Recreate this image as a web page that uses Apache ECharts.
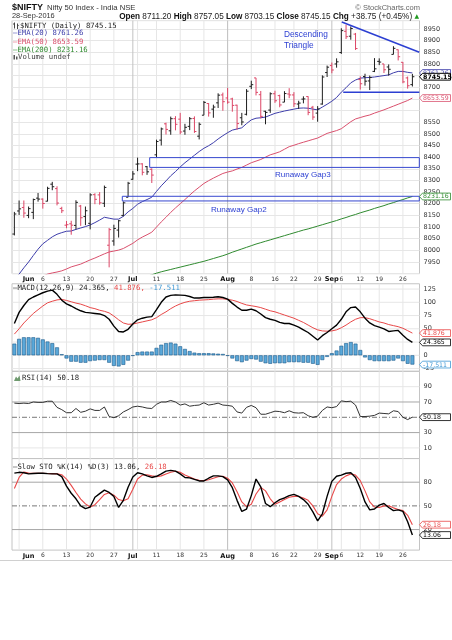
<!DOCTYPE html>
<html>
<head>
<meta charset="utf-8">
<title>$NIFTY daily</title>
<script src="https://cdn.jsdelivr.net/npm/echarts@6.0.0/dist/echarts.min.js"></script>
<style>
  html, body { margin: 0; padding: 0; background: #fff; }
  #chart { width: 452px; height: 640px; }
</style>
</head>
<body>
<div id="chart"></div>
<script>
// trading days shown on the chart (NSE, 27 May - 28 Sep 2016)
var dates = [
  '2016-05-27', '2016-05-30', '2016-05-31', '2016-06-01', '2016-06-02', '2016-06-03', '2016-06-06', '2016-06-07', '2016-06-08', '2016-06-09',
  '2016-06-10', '2016-06-13', '2016-06-14', '2016-06-15', '2016-06-16', '2016-06-17', '2016-06-20', '2016-06-21', '2016-06-22', '2016-06-23',
  '2016-06-24', '2016-06-27', '2016-06-28', '2016-06-29', '2016-06-30', '2016-07-01', '2016-07-04', '2016-07-05', '2016-07-07', '2016-07-08',
  '2016-07-11', '2016-07-12', '2016-07-13', '2016-07-14', '2016-07-15', '2016-07-18', '2016-07-19', '2016-07-20', '2016-07-21', '2016-07-22',
  '2016-07-25', '2016-07-26', '2016-07-27', '2016-07-28', '2016-07-29', '2016-08-01', '2016-08-02', '2016-08-03', '2016-08-04', '2016-08-05',
  '2016-08-08', '2016-08-09', '2016-08-10', '2016-08-11', '2016-08-12', '2016-08-16', '2016-08-17', '2016-08-18', '2016-08-19', '2016-08-22',
  '2016-08-23', '2016-08-24', '2016-08-25', '2016-08-26', '2016-08-29', '2016-08-30', '2016-08-31', '2016-09-01', '2016-09-02', '2016-09-06',
  '2016-09-07', '2016-09-08', '2016-09-09', '2016-09-12', '2016-09-14', '2016-09-15', '2016-09-16', '2016-09-19', '2016-09-20', '2016-09-21',
  '2016-09-22', '2016-09-23', '2016-09-26', '2016-09-27', '2016-09-28'
];

var opens = [
  8070, 8169, 8184, 8150, 8163, 8224, 8220, 8211, 8284, 8265,
  8180, 8108, 8114, 8107, 8190, 8145, 8116, 8239, 8238, 8202,
  8022, 8040, 8087, 8150, 8228, 8305, 8370, 8371, 8359, 8348,
  8410, 8473, 8543, 8513, 8565, 8563, 8512, 8532, 8566, 8490,
  8580, 8630, 8606, 8633, 8667, 8654, 8650, 8623, 8569, 8584,
  8704, 8740, 8668, 8597, 8602, 8672, 8664, 8636, 8671, 8667,
  8628, 8649, 8660, 8614, 8589, 8628, 8763, 8793, 8800, 8849,
  8940, 8919, 8928, 8733, 8746, 8727, 8768, 8811, 8800, 8787,
  8841, 8861, 8807, 8740, 8711.20
];
var highs = [
  8165, 8214, 8214, 8188, 8222, 8246, 8223, 8273, 8294, 8275,
  8187, 8126, 8127, 8215, 8195, 8188, 8245, 8245, 8250, 8278,
  8096, 8110, 8130, 8210, 8294, 8340, 8398, 8374, 8362, 8352,
  8475, 8527, 8548, 8574, 8576, 8590, 8543, 8572, 8575, 8549,
  8641, 8632, 8625, 8674, 8677, 8697, 8655, 8625, 8590, 8692,
  8728, 8740, 8684, 8599, 8678, 8685, 8668, 8683, 8696, 8679,
  8642, 8661, 8661, 8620, 8619, 8751, 8793, 8806, 8824, 8953,
  8968, 8961, 8933, 8747, 8758, 8750, 8825, 8824, 8800, 8798,
  8876, 8862, 8808, 8746, 8757.05
];
var lows = [
  8064, 8152, 8140, 8138, 8134, 8209, 8179, 8210, 8258, 8193,
  8160, 8095, 8067, 8090, 8105, 8108, 8090, 8198, 8196, 8186,
  7927, 8020, 8055, 8146, 8228, 8303, 8340, 8322, 8324, 8289,
  8400, 8450, 8497, 8496, 8515, 8498, 8496, 8516, 8504, 8476,
  8580, 8574, 8569, 8611, 8599, 8629, 8595, 8518, 8537, 8579,
  8692, 8665, 8566, 8541, 8590, 8633, 8614, 8636, 8653, 8615,
  8607, 8631, 8580, 8560, 8552, 8625, 8744, 8760, 8784, 8843,
  8907, 8904, 8860, 8690, 8707, 8688, 8765, 8795, 8761, 8750,
  8841, 8815, 8717, 8694, 8703.15
];
var closes = [
  8156, 8178, 8160, 8179, 8218, 8220, 8201, 8266, 8273, 8203,
  8170, 8110, 8108, 8206, 8140, 8170, 8238, 8219, 8204, 8270,
  8089, 8094, 8127, 8204, 8288, 8328, 8371, 8335, 8337, 8323,
  8467, 8521, 8519, 8565, 8541, 8508, 8528, 8565, 8510, 8541,
  8635, 8590, 8615, 8666, 8638, 8636, 8622, 8544, 8551, 8683,
  8711, 8678, 8575, 8592, 8672, 8642, 8624, 8673, 8667, 8629,
  8632, 8650, 8592, 8572, 8607, 8744, 8786, 8774, 8809, 8943,
  8917, 8952, 8866, 8715, 8726, 8742, 8779, 8808, 8775, 8777,
  8867, 8831, 8723, 8706.40, 8745.15
];

var ema20 = [
  7878, 7898, 7925, 7950, 7978, 8005, 8028, 8043, 8058, 8069,
  8076, 8082, 8083, 8090, 8096, 8102, 8109, 8119, 8130, 8142,
  8138, 8134, 8134, 8146, 8165, 8180, 8198, 8209, 8218, 8228,
  8253, 8277, 8298, 8320, 8338, 8358, 8376, 8392, 8408, 8424,
  8438, 8449, 8462, 8478, 8492, 8505, 8516, 8521, 8526, 8544,
  8560, 8567, 8569, 8572, 8580, 8588, 8593, 8598, 8602, 8606,
  8610, 8611, 8610, 8606, 8603, 8615, 8627, 8640, 8656, 8679,
  8698, 8719, 8731, 8739, 8741, 8742, 8744, 8747, 8750, 8753,
  8762, 8768, 8768, 8764, 8761.26
];
var ema50 = [
  7835, 7845, 7855, 7864, 7873, 7882, 7890, 7898, 7903, 7907,
  7912, 7920, 7929, 7935, 7941, 7950, 7959, 7967, 7976, 7985,
  7993, 7997, 8001, 8008, 8019, 8030, 8045, 8057, 8067, 8078,
  8100, 8122, 8142, 8163, 8182, 8200, 8218, 8237, 8255, 8271,
  8287, 8299, 8310, 8320, 8330, 8336, 8341, 8349, 8356, 8366,
  8376, 8383, 8390, 8400, 8410, 8416, 8423, 8434, 8445, 8451,
  8458, 8464, 8470, 8476, 8482, 8492, 8502, 8508, 8514, 8522,
  8537, 8552, 8564, 8570, 8576, 8581, 8589, 8596, 8603, 8611,
  8619, 8627, 8635, 8643, 8653.59
];
var ema200 = [
  7748, 7753, 7758, 7763, 7768, 7773, 7778, 7783, 7788, 7793,
  7798, 7803, 7808, 7813, 7818, 7823, 7828, 7833, 7838, 7843,
  7847, 7851, 7855, 7860, 7865, 7871, 7877, 7883, 7889, 7895,
  7902, 7908, 7913, 7918, 7923, 7928, 7933, 7938, 7943, 7948,
  7953, 7959, 7965, 7971, 7977, 7984, 7992, 7999, 8006, 8013,
  8020, 8027, 8033, 8039, 8045, 8051, 8057, 8063, 8069, 8075,
  8081, 8087, 8092, 8098, 8104, 8110, 8116, 8122, 8128, 8135,
  8141, 8148, 8154, 8161, 8167, 8173, 8180, 8186, 8192, 8199,
  8205, 8212, 8218, 8225, 8231.16
];

var macdLine = [
  60, 81, 94, 105, 110, 114, 118, 121, 123, 115,
  104, 97, 93, 88, 84, 81, 80, 79, 78, 75,
  68, 55, 45, 44, 49, 59, 67, 70, 72, 73,
  86, 100, 110, 113, 114, 113.5, 113, 111, 108, 108,
  109, 109, 109.5, 110.5, 109, 106, 98, 91, 85, 85,
  87, 84, 78, 71, 68, 66, 62, 60, 60, 57,
  53, 48, 43, 36, 29, 37, 43, 50, 57, 68,
  82, 90, 91, 82, 70, 61, 56, 53, 50, 45,
  46, 47, 38, 30, 24.365
];
var macdSignal = [
  40, 50, 61, 70, 79, 86, 93, 99, 102, 104.5,
  105.5, 103.5, 101, 98.5, 96.5, 93.5, 90, 88, 85, 83,
  80, 74, 67, 61, 58.5, 59, 61, 63, 65, 67,
  71, 77, 82, 88, 93, 97, 100, 102, 103, 104,
  104.5, 105, 106, 106.5, 106.5, 105.5, 104, 101.5, 98, 95,
  93.5, 92, 90, 87, 84, 82, 79, 76, 73, 70,
  66, 62, 57, 52, 48, 46, 45.5, 46, 48, 52,
  57, 63, 68, 71, 71, 69, 66, 63, 61, 58,
  56, 54, 51, 46.5, 41.876
];
var macdHist = [
  22, 31, 34, 34, 34, 33, 30, 26, 23, 15,
  2, -6, -12, -12, -14, -14, -11, -10, -9, -9,
  -14, -20, -21, -18, -10, -1, 6, 7, 7, 7,
  14, 20, 23, 24, 22, 17, 12, 8, 5, 4,
  4, 4, 3.5, 3, 2.5, -1, -6, -11, -13, -10,
  -7, -8, -12, -15, -16, -15, -15, -15, -13, -13,
  -13, -14, -14, -16, -18, -9, -3, 4, 9, 18,
  23, 25, 22, 10, -4, -9, -11, -11, -11, -11,
  -10, -6, -11, -16, -17.511
];

var rsi14 = [
  68.5, 68, 68.5, 68, 70, 69.5, 69.5, 71, 71, 63,
  60, 56, 56, 61.5, 56.5, 58, 61, 59, 59, 63.5,
  51, 49.5, 52, 57, 60, 63.5, 64.5, 63.5, 62, 61.5,
  67, 70, 70, 72, 70, 66, 67.5, 64.5, 65.5, 66,
  69, 66, 67, 68.5, 66, 65.5, 64.5, 57, 55.5, 63,
  65.5, 62.5, 54, 54, 56, 58, 57.5, 56, 58.5, 56,
  55.5, 56, 52, 50, 51.5, 59, 63.5, 62.5, 64, 71.5,
  70.5, 71, 66, 51, 51, 51.5, 52.5, 55.5, 55, 54.5,
  58.5, 57.5, 50, 47, 50.18
];

var stoK = [
  91.5, 92.5, 92, 90.5, 91, 91.3, 91.3, 90.8, 90.5, 90.5,
  87, 75, 66, 59, 50, 46.5, 48.5, 61, 65.5, 70,
  67, 62, 48, 57, 73.5, 86.5, 92, 90.5, 88, 86,
  87.5, 90.5, 94, 95, 94, 90.5, 86, 85.5, 83.5, 81.6,
  81.6, 85, 88, 88, 87, 83, 73, 57, 43, 46,
  63, 84, 74, 53, 49, 54, 58, 60, 63, 64.5,
  62, 58, 52, 42.5, 31, 40, 62, 81, 87.5, 89,
  91.3, 92, 86, 72, 55, 45, 46, 51, 53, 48,
  44, 45, 43, 30, 13.06
];
var stoD = [
  72, 86, 93, 91.5, 91.3, 91.3, 91.3, 91, 90.8, 90.5,
  89.5, 84, 76, 67, 58.5, 52.5, 48.5, 51.5, 58, 64.5,
  66.5, 63.5, 58, 56.5, 59, 71, 84, 89, 89.5, 88,
  87, 88, 90.5, 92.5, 93.8, 92.5, 89, 86.5, 84, 82.5,
  82, 83, 85, 87, 87.5, 85, 79, 68, 55, 49,
  52, 65, 73.5, 69, 59, 52, 55, 58, 61, 62,
  62, 60, 57, 50, 40, 37, 45, 62, 77, 84,
  88, 90.5, 89, 82, 69, 55, 48.5, 48, 50, 50,
  47.5, 45.5, 44, 38, 26.18
];

// date axis: label positions (index into dates) and their text
var tickIdx  = [3, 6, 11, 16, 21, 25, 30, 35, 40, 45, 50, 55, 59, 64, 67, 69, 73, 77, 82];
var tickText = ['Jun', '6', '13', '20', '27', 'Jul', '11', '18', '25', 'Aug', '8', '16', '22', '29', 'Sep', '6', '12', '19', '26'];
var weekLines  = [1, 6, 11, 16, 21, 26, 30, 35, 40, 45, 50, 55, 59, 64, 69, 73, 77, 82];
var monthLines = [25, 45, 67];

var priceHidden = [8600, 8650, 8750];
var macdTicks = [-25, 0, 25, 50, 75, 100, 125];
var rsiTicks  = [10, 30, 50, 70, 90];
var stoTicks  = [20, 50, 80];

// annotations, in (date index, price) units
var triangleTop  = [69.1, 8980, 85.46, 8850];
var triangleBase = [69.4, 8678, 85.46, 8678];
var gapBoxes = [
  [28.56, 85.46, 8356, 8398],
  [22.78, 85.46, 8212, 8232]
];

var last = dates.length - 1;
var axisDates = dates.concat(['']);
var UP = '#1e1e1e', DOWN = '#dc4666';
var BLUE = '#2c3fd2';
var MONO = 'DejaVu Sans Mono';
var SANS = 'DejaVu Sans';

var gridStyles = [
  { stroke: '#e6e6e6', lineWidth: 1 },
  { stroke: '#c2c2c2', lineWidth: 1 },
  { stroke: '#e6e6e6', lineWidth: 1 },
  { stroke: '#a6a6a6', lineWidth: 1 },
  { stroke: '#777777', lineWidth: 1, lineDash: [5, 2, 1, 2] }
];

function gridRows(yRef, levels) {
  var rows = [];
  weekLines.forEach(function (i) { rows.push([i, yRef, 0]); });
  monthLines.forEach(function (i) { rows.push([i, yRef, 1]); });
  levels.forEach(function (l) { rows.push([0, l[0], l[1]]); });
  return rows;
}

function gridSeries(g, yRef, levels) {
  return {
    type: 'custom', xAxisIndex: g, yAxisIndex: g, z: 0, silent: true,
    data: gridRows(yRef, levels),
    encode: { x: 0, y: 1 },
    renderItem: function (params, api) {
      var cs = params.coordSys;
      var kind = api.value(2);
      if (kind < 2) {
        var x = api.coord([api.value(0), yRef])[0];
        return { type: 'line', shape: { x1: x, y1: cs.y, x2: x, y2: cs.y + cs.height }, style: gridStyles[kind] };
      }
      var y = api.coord([0, api.value(1)])[1];
      return { type: 'line', shape: { x1: cs.x, y1: y, x2: cs.x + cs.width, y2: y }, style: gridStyles[kind] };
    }
  };
}

function tagSeries(g, vals, colors, digits, strongLast) {
  return {
    type: 'custom', xAxisIndex: g, yAxisIndex: g, z: 30, silent: true, clip: false,
    data: vals.map(function (v, k) { return [last, v, k]; }),
    encode: { x: 0, y: 1 },
    renderItem: function (params, api) {
      var k = api.value(2);
      var y = api.coord([last, api.value(1)])[1];
      var x0 = params.coordSys.x + params.coordSys.width;
      var x1 = x0 + 31;
      var h = 3.4;
      var strong = strongLast && k === vals.length - 1;
      return { type: 'group', children: [
        { type: 'polygon', shape: { points: [[x0, y], [x0 + 3, y - h], [x1, y - h], [x1, y + h], [x0 + 3, y + h]] },
          style: { fill: '#fff', stroke: colors[k], lineWidth: strong ? 1 : 0.8 } },
        { type: 'text', x: x0 + 3.6, y: y + 0.4,
          style: { text: api.value(1).toFixed(digits), fill: colors[k], fontSize: strong ? 6.3 : 6.2,
                   fontFamily: SANS, fontWeight: strong ? 'bold' : 'normal', verticalAlign: 'middle' } }
      ]};
    }
  };
}

function xAt(api, f) {
  var i = Math.floor(f);
  return api.coord([i, 8500])[0] + (f - i) * api.size([1, 0])[0];
}

function xAxisFor(g, withLabels) {
  return {
    type: 'category', gridIndex: g, data: axisDates, boundaryGap: true,
    axisLine: { show: false }, axisTick: { show: false }, splitLine: { show: false },
    axisLabel: withLabels ? {
      show: true, margin: 2.5, fontSize: 6, fontFamily: SANS, color: '#333',
      interval: function (i) { return tickIdx.indexOf(i) >= 0; },
      formatter: function (v, i) {
        var k = tickIdx.indexOf(i);
        if (k < 0) return '';
        var t = tickText[k];
        return isNaN(+t) ? '{m|' + t + '}' : t;
      },
      rich: { m: { fontWeight: 'bold', fontSize: 6.6, fontFamily: SANS, color: '#111' } }
    } : { show: false }
  };
}

function yAxisFor(g, min, max, interval, show, splitLine) {
  return {
    type: 'value', gridIndex: g, position: 'right', min: min, max: max, interval: interval,
    axisLine: { show: false }, axisTick: { show: false },
    splitLine: { show: !!splitLine, lineStyle: { color: '#e6e6e6', width: 1 } },
    axisLabel: { margin: 4, fontSize: 6.5, fontFamily: SANS, color: '#333',
                 formatter: function (v) { return show(v) ? String(v) : ''; } }
  };
}

var option = {
  animation: false,
  backgroundColor: '#fff',
  grid: [
    { left: 12, right: 32.5, top: 20.6, height: 253.05, show: true, borderColor: '#c4c4c4', borderWidth: 1 },
    { left: 12, right: 32.5, top: 283.75, height: 87.45, show: true, borderColor: '#c4c4c4', borderWidth: 1 },
    { left: 12, right: 32.5, top: 371.4, height: 87.2, show: true, borderColor: '#c4c4c4', borderWidth: 1 },
    { left: 12, right: 32.5, top: 458.5, height: 91.6, show: true, borderColor: '#c4c4c4', borderWidth: 1 }
  ],
  xAxis: [xAxisFor(0, true), xAxisFor(1, false), xAxisFor(2, false), xAxisFor(3, true)],
  yAxis: [
    yAxisFor(0, 7900, 8986, 50, function (v) { return v >= 7950 && v <= 8950 && v % 50 === 0 && priceHidden.indexOf(v) < 0; }, true),
    yAxisFor(1, -30, 135, 5, function (v) { return macdTicks.indexOf(v) >= 0; }),
    yAxisFor(2, -4, 110, 2, function (v) { return rsiTicks.indexOf(v) >= 0; }),
    yAxisFor(3, -6, 110, 2, function (v) { return stoTicks.indexOf(v) >= 0; })
  ],
  series: [
    gridSeries(0, 8500, []),
    gridSeries(1, 0, macdTicks.map(function (v) { return [v, 2]; })),
    gridSeries(2, 50, [[90, 2], [70, 3], [50, 4], [30, 3], [10, 2]]),
    gridSeries(3, 50, [[80, 3], [50, 4], [20, 3]]),

    { name: 'EMA(200)', type: 'line', xAxisIndex: 0, yAxisIndex: 0, data: ema200, symbol: 'none', z: 3,
      lineStyle: { color: '#2f8a2f', width: 1 } },
    { name: 'EMA(50)', type: 'line', xAxisIndex: 0, yAxisIndex: 0, data: ema50, symbol: 'none', z: 3,
      lineStyle: { color: '#d9506d', width: 1 } },
    { name: 'EMA(20)', type: 'line', xAxisIndex: 0, yAxisIndex: 0, data: ema20, symbol: 'none', z: 3,
      lineStyle: { color: '#3d3daa', width: 1 } },
    {
      name: '$NIFTY', type: 'custom', xAxisIndex: 0, yAxisIndex: 0, z: 4,
      data: dates.map(function (d, i) { return [i, opens[i], highs[i], lows[i], closes[i]]; }),
      encode: { x: 0, y: [1, 2, 3, 4] },
      renderItem: function (params, api) {
        var i = api.value(0);
        var hi = api.coord([i, api.value(2)]);
        var lo = api.coord([i, api.value(3)]);
        var op = api.coord([i, api.value(1)]);
        var cl = api.coord([i, api.value(4)]);
        var tick = api.size([1, 0])[0] * 0.42;
        var up = i === 0 || closes[i] >= closes[i - 1];
        var st = { stroke: up ? UP : DOWN, lineWidth: 1 };
        return { type: 'group', children: [
          { type: 'line', shape: { x1: hi[0], y1: hi[1], x2: lo[0], y2: lo[1] }, style: st },
          { type: 'line', shape: { x1: op[0] - tick, y1: op[1], x2: op[0], y2: op[1] }, style: st },
          { type: 'line', shape: { x1: cl[0], y1: cl[1], x2: cl[0] + tick, y2: cl[1] }, style: st }
        ]};
      }
    },
    {
      name: 'annotations', type: 'custom', xAxisIndex: 0, yAxisIndex: 0, z: 6, silent: true,
      data: [[0, 8500, 0], [0, 8500, 1], [0, 8500, 2], [0, 8500, 3]],
      encode: { x: 0, y: 1 },
      renderItem: function (params, api) {
        var k = api.value(2);
        if (k < 2) {
          var t = k === 0 ? triangleTop : triangleBase;
          return { type: 'line',
            shape: { x1: xAt(api, t[0]), y1: api.coord([0, t[1]])[1], x2: xAt(api, t[2]), y2: api.coord([0, t[3]])[1] },
            style: { stroke: BLUE, lineWidth: 1.5 } };
        }
        var b = gapBoxes[k - 2];
        var xa = xAt(api, b[0]), xb = xAt(api, b[1]);
        var ya = api.coord([0, b[3]])[1], yb = api.coord([0, b[2]])[1];
        return { type: 'rect', shape: { x: xa, y: ya, width: xb - xa, height: yb - ya },
                 style: { fill: 'none', stroke: '#3748cf', lineWidth: 1 } };
      }
    },

    { name: 'Hist', type: 'bar', xAxisIndex: 1, yAxisIndex: 1, data: macdHist, barCategoryGap: '18%', z: 2,
      itemStyle: { color: '#5aa8d9', borderColor: '#1d5a8c', borderWidth: 0.6 } },
    { name: 'Signal', type: 'line', xAxisIndex: 1, yAxisIndex: 1, data: macdSignal, symbol: 'none', z: 3,
      lineStyle: { color: '#e84848', width: 1 } },
    { name: 'MACD', type: 'line', xAxisIndex: 1, yAxisIndex: 1, data: macdLine, symbol: 'none', z: 4,
      lineStyle: { color: '#000', width: 1.4 } },

    { name: 'RSI', type: 'line', xAxisIndex: 2, yAxisIndex: 2, data: rsi14, symbol: 'none', z: 3,
      lineStyle: { color: '#333', width: 1 } },

    { name: '%D', type: 'line', xAxisIndex: 3, yAxisIndex: 3, data: stoD, symbol: 'none', z: 3,
      lineStyle: { color: '#e84848', width: 1.1 } },
    { name: '%K', type: 'line', xAxisIndex: 3, yAxisIndex: 3, data: stoK, symbol: 'none', z: 4,
      lineStyle: { color: '#000', width: 1.4 } },

    tagSeries(0, [ema20[last], ema50[last], ema200[last], closes[last]], ['#3d3daa', '#d9506d', '#2f8a2f', '#000'], 2, true),
    tagSeries(1, [macdSignal[last], macdLine[last], macdHist[last]], ['#e84848', '#000', '#3f98d4'], 3, false),
    tagSeries(2, [rsi14[last]], ['#000'], 2, false),
    tagSeries(3, [stoD[last], stoK[last]], ['#e84848', '#000'], 2, false)
  ]
};

var chg = closes[last] - closes[last - 1];
var chgPct = chg / closes[last - 1] * 100;
function f2(v) { return v.toFixed(2); }
function txt(x, y, text, extra) {
  var st = { text: text, fontSize: 7.3, fontFamily: MONO, fill: '#222', verticalAlign: 'middle' };
  for (var k in extra) st[k] = extra[k];
  return { type: 'text', x: x, y: y, z: 50, silent: true, style: st };
}
var HDR = 'Liberation Sans';
var bold = { fontWeight: 'bold', fontSize: 8.2, fontFamily: HDR, fill: '#111' };

option.graphic = [
  txt(12, 7.5, '$NIFTY', { fontSize: 9, fontWeight: 'bold', fontFamily: HDR, fill: '#111' }),
  txt(47, 7.7, 'Nifty 50 Index - India NSE', { fontSize: 7.7, fontFamily: HDR, fill: '#333' }),
  txt(420, 7.7, '\u00a9 StockCharts.com', { fontSize: 7.5, fontFamily: HDR, fill: '#666', align: 'right' }),
  txt(12, 16.4, '28-Sep-2016', { fontSize: 7.4, fontFamily: HDR, fill: '#333' }),
  txt(419, 16.4,
    '{b|Open} ' + f2(opens[last]) + ' {b|High} ' + f2(highs[last]) + ' {b|Low} ' + f2(lows[last]) +
    ' {b|Close} ' + f2(closes[last]) + ' {b|Chg} +' + f2(chg) + ' (+' + f2(chgPct) + '%) {g|\u25b2}',
    { fontSize: 8.2, fontFamily: HDR, fill: '#222', align: 'right',
      rich: { b: bold, g: { fontSize: 6, fontFamily: SANS, fill: '#1f9a1f' } } }),

  // price panel legend
  { type: 'group', z: 50, silent: true, children: [
    { type: 'line', shape: { x1: 14.5, y1: 22.5, x2: 14.5, y2: 28.5 }, style: { stroke: '#444', lineWidth: 1 } },
    { type: 'line', shape: { x1: 13, y1: 24, x2: 14.5, y2: 24 }, style: { stroke: '#444', lineWidth: 1 } },
    { type: 'line', shape: { x1: 17.5, y1: 23.5, x2: 17.5, y2: 29 }, style: { stroke: '#444', lineWidth: 1 } },
    { type: 'line', shape: { x1: 17.5, y1: 25.5, x2: 19, y2: 25.5 }, style: { stroke: '#444', lineWidth: 1 } }
  ]},
  txt(20, 25.7, '$NIFTY (Daily) ' + f2(closes[last])),
  txt(13, 33.6, '\u2014EMA(20) ' + f2(ema20[last]), { fill: '#3d3daa' }),
  txt(13, 41.8, '\u2014EMA(50) ' + f2(ema50[last]), { fill: '#d9506d' }),
  txt(13, 50.0, '\u2014EMA(200) ' + f2(ema200[last]), { fill: '#2f8a2f' }),
  { type: 'rect', z: 50, silent: true, shape: { x: 13.5, y: 55, width: 1.5, height: 4.5 }, style: { fill: '#555' } },
  { type: 'rect', z: 50, silent: true, shape: { x: 16, y: 56.5, width: 1.5, height: 3 }, style: { fill: '#555' } },
  txt(18, 57.5, 'Volume undef', { fill: '#444' }),

  // annotations text
  txt(284, 35.2, 'Descending', { fontSize: 8.3, fontFamily: HDR, fill: BLUE }),
  txt(284, 45.4, 'Triangle', { fontSize: 8.3, fontFamily: HDR, fill: BLUE }),
  txt(275, 174.4, 'Runaway Gap3', { fontSize: 8.1, fontFamily: HDR, fill: BLUE }),
  txt(211, 210.2, 'Runaway Gap2', { fontSize: 8.1, fontFamily: HDR, fill: BLUE }),

  // indicator legends
  txt(13, 288.6,
    '\u2014MACD(12,26,9) ' + macdLine[last].toFixed(3) + ', {r|' + macdSignal[last].toFixed(3) + ',} {c|' + macdHist[last].toFixed(3) + '}',
    { rich: { r: { fill: '#e84848', fontSize: 7.3, fontFamily: MONO }, c: { fill: '#3f98d4', fontSize: 7.3, fontFamily: MONO } } }),
  { type: 'polygon', z: 50, silent: true, shape: { points: [[14, 381], [16, 376.5], [17.5, 378.5], [19.5, 375.5], [20.5, 381]] },
    style: { fill: '#6f9a6f' } },
  txt(22, 378.3, 'RSI(14) ' + f2(rsi14[last])),
  txt(13, 466.8,
    '\u2014Slow STO %K(14) %D(3) ' + f2(stoK[last]) + ', {r|' + f2(stoD[last]) + '}',
    { rich: { r: { fill: '#e84848', fontSize: 7.3, fontFamily: MONO } } }),

  { type: 'line', z: 50, silent: true, shape: { x1: 0, y1: 560.5, x2: 452, y2: 560.5 }, style: { stroke: '#d0d0d0', lineWidth: 1 } }
];

var chart = echarts.init(document.getElementById('chart'));
chart.setOption(option);
</script>
</body>
</html>
